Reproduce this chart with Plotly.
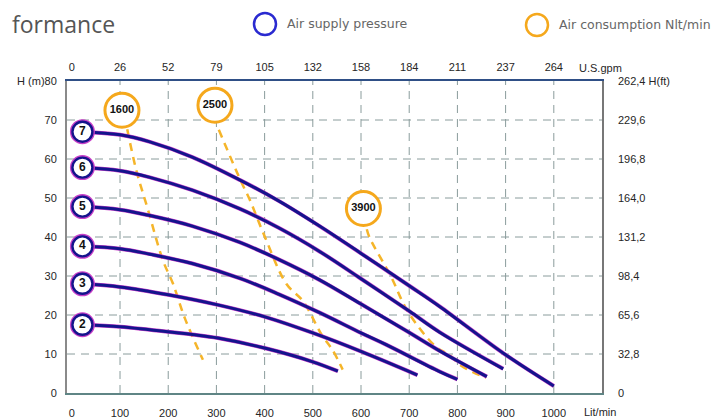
import plotly.graph_objects as go

# ---------------- data ----------------
pressures = [2, 3, 4, 5, 6, 7]
curve_x = {
    2: [22, 100, 162, 250, 303, 404, 500, 552],
    3: [22, 100, 200, 303, 404, 500, 601, 717],
    4: [22, 100, 162, 250, 349, 430, 514, 600, 652, 763, 800],
    5: [22, 100, 162, 250, 349, 430, 514, 600, 700, 763, 861],
    6: [22, 100, 162, 250, 349, 430, 514, 600, 700, 763, 895],
    7: [22, 100, 162, 250, 349, 430, 514, 600, 700, 763, 900, 1000],
}
curve_y = {
    2: [17.5, 17.0, 16.2, 15.0, 14.1, 11.4, 8.0, 5.6],
    3: [28.0, 27.2, 25.2, 22.6, 19.4, 15.4, 10.6, 4.6],
    4: [37.6, 37.0, 35.6, 33.2, 29.4, 25.3, 20.6, 15.4, 12.4, 5.5, 3.5],
    5: [47.8, 47.0, 45.5, 42.8, 38.6, 34.2, 29.0, 22.8, 15.5, 10.8, 4.2],
    6: [57.8, 57.0, 55.3, 52.0, 47.2, 42.3, 36.3, 29.3, 21.0, 15.6, 6.2],
    7: [67.0, 66.2, 64.4, 60.5, 54.6, 49.2, 42.8, 35.8, 27.5, 22.2, 9.8, 1.8],
}

consumption = [1600, 2500, 3900]
bubble_x = [104, 297, 605]
bubble_y = [72.5, 73.8, 47.3]
cons_x = {
    1600: [115, 134, 158, 189, 210, 235, 272],
    2500: [305, 349, 369, 400, 445, 480, 518, 541, 562],
    3900: [612, 618, 662, 697, 755, 783, 808, 859],
}
cons_y = {
    1600: [67.6, 57, 47, 34, 28, 19, 8.5],
    2500: [67.5, 54.8, 49.6, 40.2, 28.0, 23.5, 15.0, 11.0, 6.0],
    3900: [42.0, 39.8, 29.9, 20.9, 11.9, 9.8, 7.0, 3.9],
}

x_ticks = [0, 100, 200, 300, 400, 500, 600, 700, 800, 900, 1000]
gpm_labels = ["0", "26", "52", "79", "105", "132", "158", "184", "211", "237", "264"]
y_ticks = [0, 10, 20, 30, 40, 50, 60, 70, 80]
y_labels = ["0", "10", "20", "30", "40", "50", "60", "70", "H (m)80"]
ft_ticks = [0, 32.8, 65.6, 98.4, 131.2, 164.0, 196.8, 229.6, 262.4]
ft_labels = ["0", "32,8", "65,6", "98,4", "131,2", "164,0", "196,8", "229,6", "262,4 H(ft)"]

BLUE = "#14148c"
MAGENTA = "#c840c8"
ORANGE = "#f5a81c"
DASH_OR = "#f5b52a"
GRID = "#8a9c9c"
TICKFONT = dict(family="Liberation Sans, Arial, sans-serif", size=11, color="#262626")
LEGFONT = dict(family="DejaVu Sans, sans-serif", size=12.5, color="#666666")

fig = go.Figure()

# grid (dashed), drawn from the tick arrays
for v in x_ticks[1:]:
    fig.add_shape(type="line", xref="x", yref="paper", x0=v, x1=v, y0=0, y1=1, layer="below",
                  line=dict(color=GRID, width=1, dash="8px,6px"))
for v in y_ticks[1:-1]:
    fig.add_shape(type="line", xref="paper", yref="y", x0=0, x1=1, y0=v, y1=v, layer="below",
                  line=dict(color=GRID, width=1, dash="8px,6px"))

# air consumption dashed lines
for c in consumption:
    fig.add_trace(go.Scatter(x=cons_x[c], y=cons_y[c], mode="lines",
                             line=dict(color=DASH_OR, width=2.5, dash="8px,6px", shape="spline"),
                             hoverinfo="skip", showlegend=False))

# pressure curves (magenta halo + blue core)
for p in pressures:
    fig.add_trace(go.Scatter(x=curve_x[p], y=curve_y[p], mode="lines",
                             line=dict(color=MAGENTA, width=4.0, shape="spline"),
                             hoverinfo="skip", showlegend=False))
    fig.add_trace(go.Scatter(x=curve_x[p], y=curve_y[p], mode="lines",
                             line=dict(color=BLUE, width=3.0, shape="spline"),
                             name=f"{p} bar", showlegend=False))

# pressure label circles
fig.add_trace(go.Scatter(
    x=[curve_x[p][0] for p in pressures], y=[curve_y[p][0] for p in pressures],
    mode="markers", marker=dict(symbol="circle", size=22, color="white",
                                line=dict(color=MAGENTA, width=3.0)),
    hoverinfo="skip", showlegend=False))
fig.add_trace(go.Scatter(
    x=[curve_x[p][0] for p in pressures], y=[curve_y[p][0] for p in pressures],
    mode="markers+text", text=[f"<b>{p}</b>" for p in pressures],
    textfont=dict(family="Liberation Sans, Arial, sans-serif", size=12, color="#111"),
    textposition="middle center",
    marker=dict(symbol="circle", size=20, color="white", line=dict(color=BLUE, width=2.4)),
    name="Air supply pressure", showlegend=False))

# consumption bubbles
fig.add_trace(go.Scatter(
    x=bubble_x, y=bubble_y, mode="markers+text",
    text=[f"<b>{c}</b>" for c in consumption],
    textfont=dict(family="Liberation Sans, Arial, sans-serif", size=11, color="#111"),
    textposition="middle center",
    marker=dict(symbol="circle", size=34, color="white", line=dict(color=ORANGE, width=3)),
    name="Air consumption Nlt/min", showlegend=False))

# invisible trace to anchor secondary axes
fig.add_trace(go.Scatter(x=[0], y=[0], xaxis="x2", yaxis="y2", mode="markers",
                         marker=dict(opacity=0), hoverinfo="skip", showlegend=False))

# page body adds an 8 px offset, so the figure coordinates are shifted by -8
fig.update_layout(
    template="none",
    width=724, height=419,
    margin=dict(l=59, r=130, t=73, b=34, autoexpand=False),
    paper_bgcolor="white", plot_bgcolor="white",
    xaxis=dict(range=[-10, 1100], tickvals=x_ticks, ticktext=[str(v) for v in x_ticks],
               tickfont=TICKFONT, ticks="", ticklabelstandoff=9, zeroline=False, automargin=False,
               showgrid=False, showline=True, linecolor="#5f8585", linewidth=2),
    yaxis=dict(range=[0, 80], tickvals=y_ticks, ticktext=y_labels, tickfont=TICKFONT,
               ticks="", ticklabelstandoff=6, zeroline=False, automargin=False,
               showgrid=False, showline=True, linecolor="#8a8a8a", linewidth=2),
    xaxis2=dict(range=[-10, 1100], overlaying="x", side="top", anchor="y2", tickvals=x_ticks,
                ticktext=gpm_labels, tickfont=TICKFONT, ticks="", ticklabelstandoff=4,
                showgrid=False, zeroline=False, automargin=False,
                showline=True, linecolor="#2f4f86", linewidth=1.5),
    yaxis2=dict(range=[0, 262.4], overlaying="y", side="right", anchor="x2", tickvals=ft_ticks,
                ticktext=ft_labels, tickfont=TICKFONT, ticks="", ticklabelstandoff=12,
                showgrid=False, zeroline=False, automargin=False,
                showline=True, linecolor="#777777", linewidth=1.5),
    showlegend=False,
)

# unit labels
fig.add_annotation(text="U.S.gpm", xref="paper", yref="paper", x=1.0, y=1.0, xanchor="left",
                   yanchor="bottom", xshift=-25, yshift=5, showarrow=False, font=TICKFONT)
fig.add_annotation(text="Lit/min", xref="paper", yref="paper", x=1.0, y=0.0, xanchor="left",
                   yanchor="top", xshift=-20, yshift=-11, showarrow=False, font=TICKFONT)

# title fragment
fig.add_annotation(text="formance", xref="paper", yref="paper", x=0, y=1, xanchor="left",
                   yanchor="middle", xshift=-57, yshift=57, showarrow=False,
                   font=dict(family="Open Sans, Lato, sans-serif", size=23, color="#555555"))

# manual legend (screen positions minus the 8 px page offset)
PW, PH = 724 - 59 - 130, 419 - 73 - 34
for cx, cy, col, label in [(257, 16, "#2a2ad0", "Air supply pressure"),
                           (529, 17, ORANGE, "Air consumption Nlt/min")]:
    px = (cx - 59) / PW
    py = (419 - 34 - cy) / PH
    fig.add_shape(type="circle", xref="paper", yref="paper", xsizemode="pixel",
                  ysizemode="pixel", xanchor=px, yanchor=py, x0=-11, x1=11, y0=-11, y1=11,
                  line=dict(color=col, width=2.5), fillcolor="white")
    fig.add_annotation(text=label, xref="paper", yref="paper", x=px, y=py, xanchor="left",
                       yanchor="middle", xshift=20, showarrow=False, font=LEGFONT)

fig.write_html("out.html")
